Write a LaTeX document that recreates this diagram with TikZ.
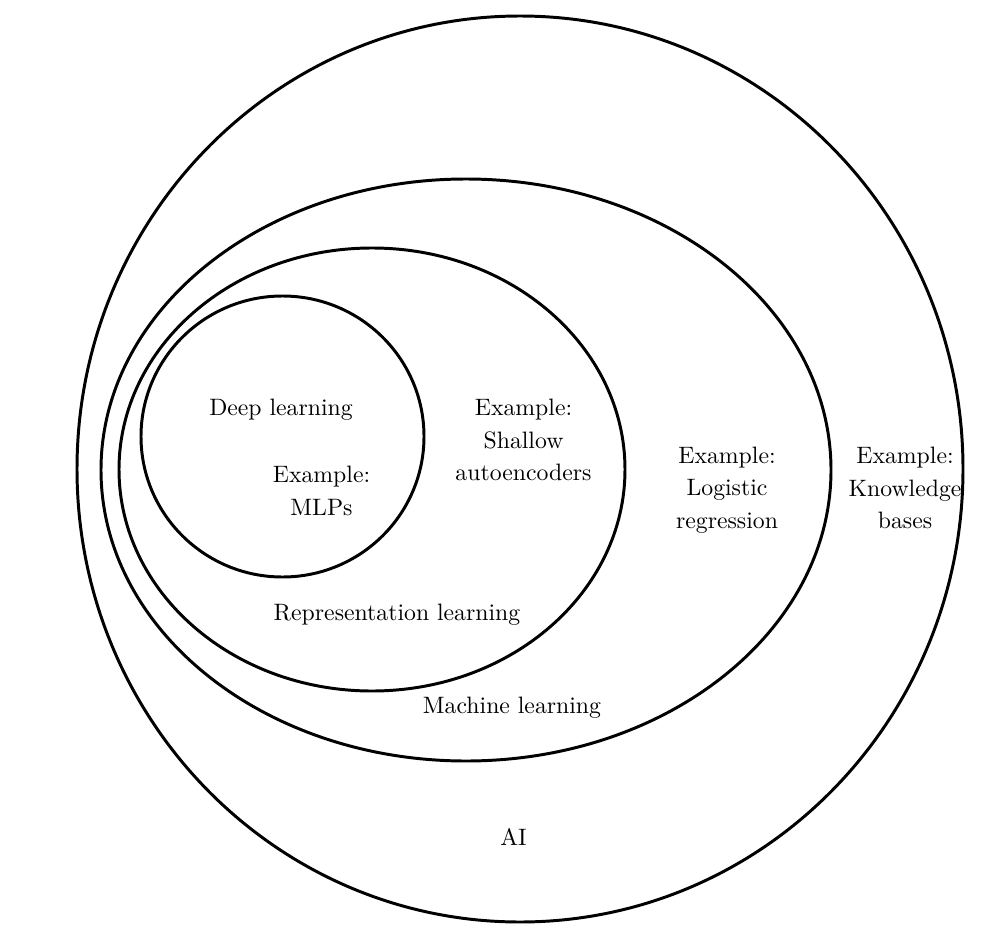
\documentclass[tikz,border=0pt]{standalone}
\begin{document}
\tikzset{every picture/.style={line width=1.25pt}}

\begin{tikzpicture}[x=0.4213pt,y=0.4213pt,yscale=-1,xscale=1,
  txt/.style={align=center,font=\fontsize{10}{13.75}\selectfont}]
%set diagram left start at 0, and has height of 928
\path (0,0) rectangle (1003,928);

%Shape: Ellipse [AI]
\draw   (520,469) circle [x radius=443, y radius=453] ;
%Shape: Ellipse [machine learning]
\draw   (466,470) circle [x radius=365, y radius=291] ;
%Shape: Ellipse [representation learning]
\draw   (372,469.5) circle [x radius=253, y radius=221.5] ;
%Shape: Circle [deep learning]
\draw   (282.5,436.5) circle [x radius=141.5, y radius=140.5] ;

% Text Node
\draw (281,410) node (dl) [txt] {Deep learning};
% Text Node
\draw (321.5,491) node (mlp) [txt] {Example:\\MLPs};
% Text Node
\draw (523.5,440) node (sae) [txt] {Example:\\Shallow\\autoencoders};
% Text Node
\draw (397,614.5) node (rl) [txt] {Representation learning};
% Text Node
\draw (727,490) node (lr) [txt] {Example:\\Logistic\\regression};
% Text Node
\draw (512,707.5) node (ml) [txt] {Machine learning};
% Text Node
\draw (905,488) node (kb) [txt] {Example:\\Knowledge\\bases};
% Text Node
\draw (513.5,837) node (ai) [txt] {AI};

\end{tikzpicture}
\end{document}
